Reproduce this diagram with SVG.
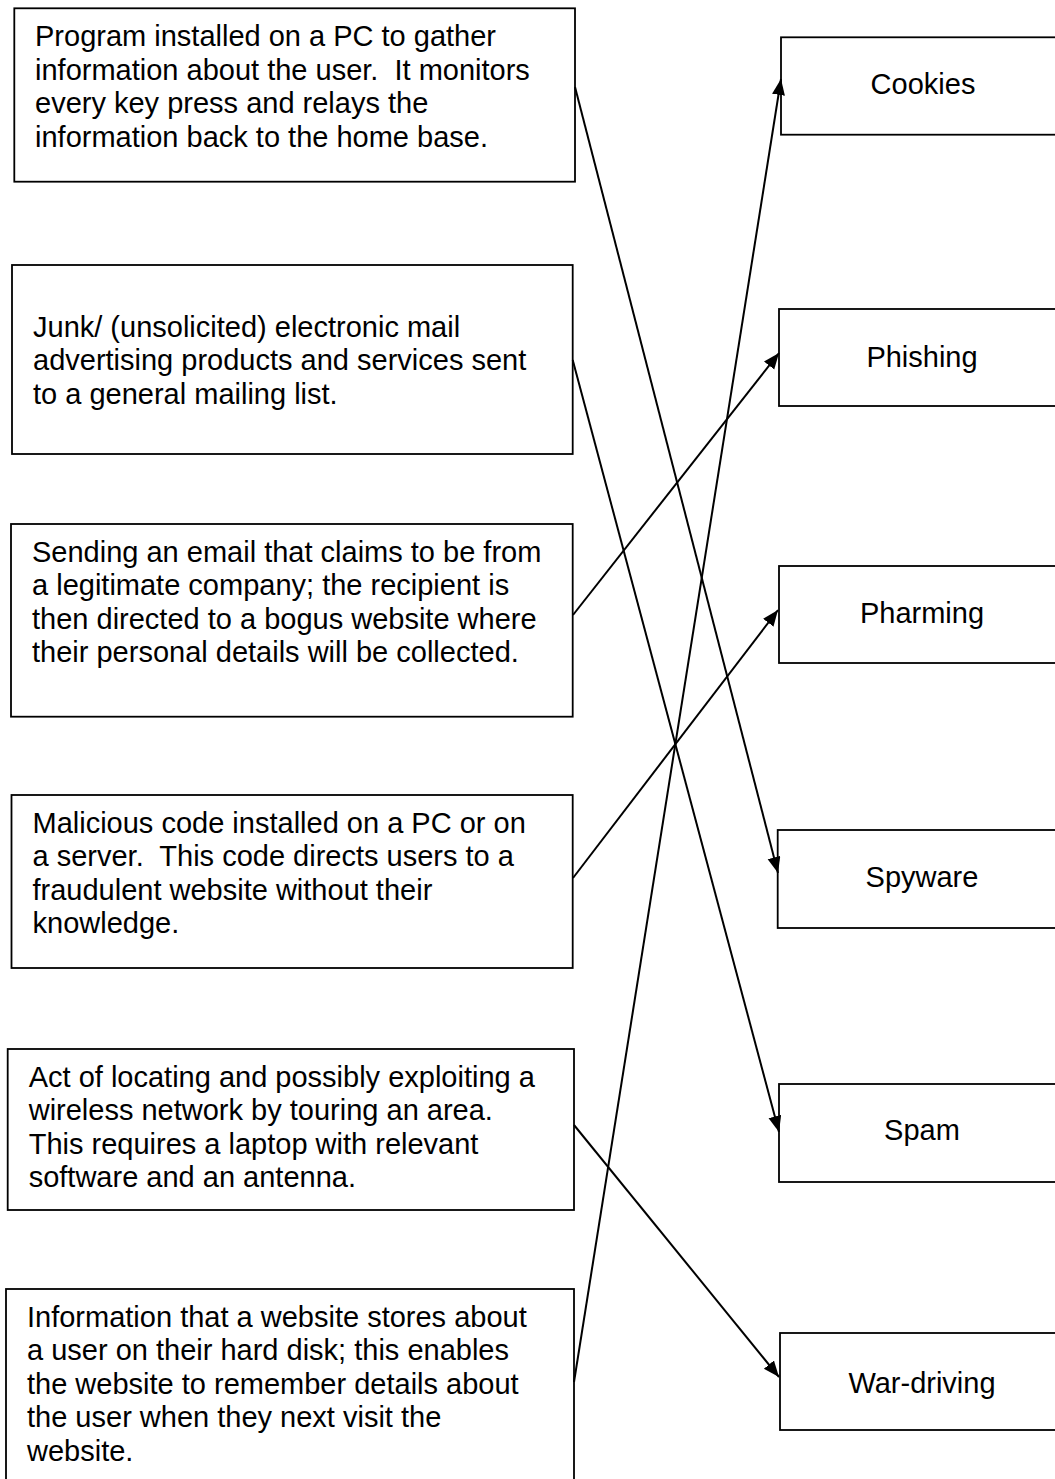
<svg xmlns="http://www.w3.org/2000/svg" width="1055" height="1479" viewBox="0 0 1055 1479">
<defs>
<style>
.box{fill:#fff;stroke:#000;stroke-width:1.8}
.t{font-family:"Liberation Sans",Arial,sans-serif;font-size:29px;fill:#000;white-space:pre}
.c{text-anchor:middle}
.con{stroke:#000;stroke-width:2;fill:none;marker-end:url(#ah)}
</style>
<marker id="ah" markerUnits="userSpaceOnUse" markerWidth="18" markerHeight="14" refX="16" refY="6.5" orient="auto">
<path d="M0,0 L16,6.5 L0,13 z" fill="#000"/>
</marker>
</defs>
<rect width="1055" height="1479" fill="#fff"/>

<g id="desc-spyware">
<rect class="box" x="14.3" y="8.3" width="560.7" height="173.4"/>
<text class="t" x="35" y="46">Program installed on a PC to gather</text>
<text class="t" x="35" y="79.5">information about the user.  It monitors</text>
<text class="t" x="35" y="113">every key press and relays the</text>
<text class="t" x="35" y="146.5">information back to the home base.</text>
</g>

<g id="desc-spam">
<rect class="box" x="12" y="265" width="560.7" height="189"/>
<text class="t" x="33" y="336.5">Junk/ (unsolicited) electronic mail</text>
<text class="t" x="33" y="370">advertising products and services sent</text>
<text class="t" x="33" y="403.5">to a general mailing list.</text>
</g>

<g id="desc-phishing">
<rect class="box" x="11" y="524" width="561.7" height="192.7"/>
<text class="t" x="32" y="561.7">Sending an email that claims to be from</text>
<text class="t" x="32" y="595.2">a legitimate company; the recipient is</text>
<text class="t" x="32" y="628.7">then directed to a bogus website where</text>
<text class="t" x="32" y="662.2">their personal details will be collected.</text>
</g>

<g id="desc-pharming">
<rect class="box" x="11.5" y="795" width="561.2" height="173"/>
<text class="t" x="32.5" y="832.7">Malicious code installed on a PC or on</text>
<text class="t" x="32.5" y="866.2">a server.  This code directs users to a</text>
<text class="t" x="32.5" y="899.7">fraudulent website without their</text>
<text class="t" x="32.5" y="933.2">knowledge.</text>
</g>

<g id="desc-wardriving">
<rect class="box" x="7.7" y="1049" width="566.3" height="161"/>
<text class="t" x="28.7" y="1086.7">Act of locating and possibly exploiting a</text>
<text class="t" x="28.7" y="1120.2">wireless network by touring an area.</text>
<text class="t" x="28.7" y="1153.7">This requires a laptop with relevant</text>
<text class="t" x="28.7" y="1187.2">software and an antenna.</text>
</g>

<g id="desc-cookies">
<rect class="box" x="6" y="1289" width="568" height="200"/>
<text class="t" x="27" y="1326.7">Information that a website stores about</text>
<text class="t" x="27" y="1360.2">a user on their hard disk; this enables</text>
<text class="t" x="27" y="1393.7">the website to remember details about</text>
<text class="t" x="27" y="1427.2">the user when they next visit the</text>
<text class="t" x="27" y="1460.7">website.</text>
</g>

<g id="term-cookies">
<rect class="box" x="781" y="37.3" width="290" height="97.4"/>
<text class="t c" x="923" y="94">Cookies</text>
</g>
<g id="term-phishing">
<rect class="box" x="779" y="309" width="290" height="97"/>
<text class="t c" x="922" y="367">Phishing</text>
</g>
<g id="term-pharming">
<rect class="box" x="779" y="566" width="290" height="97"/>
<text class="t c" x="922" y="623">Pharming</text>
</g>
<g id="term-spyware">
<rect class="box" x="777.7" y="830" width="290" height="98"/>
<text class="t c" x="922" y="887">Spyware</text>
</g>
<g id="term-spam">
<rect class="box" x="779" y="1084" width="290" height="98"/>
<text class="t c" x="922" y="1140">Spam</text>
</g>
<g id="term-wardriving">
<rect class="box" x="780" y="1333" width="290" height="97"/>
<text class="t c" x="922" y="1393">War-driving</text>
</g>

<g id="connectors">
<line class="con" x1="575" y1="87" x2="778" y2="873"/>
<line class="con" x1="572.7" y1="360" x2="779" y2="1132"/>
<line class="con" x1="573" y1="615" x2="779" y2="353"/>
<line class="con" x1="573" y1="878" x2="778" y2="610"/>
<line class="con" x1="574" y1="1125" x2="779" y2="1377"/>
<line class="con" x1="574" y1="1382" x2="781" y2="79"/>
</g>
</svg>
